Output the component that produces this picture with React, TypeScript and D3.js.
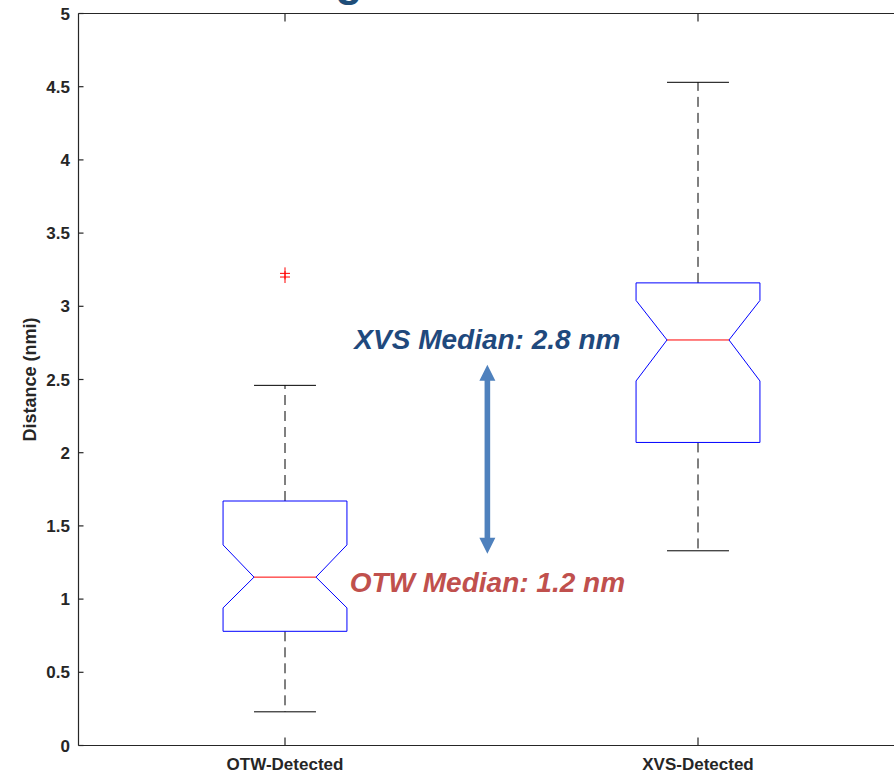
import React from "react";
import * as d3 from "d3";

const categories = ["OTW-Detected", "XVS-Detected"];
const whiskerLow = [0.23, 1.33];
const q1 = [0.78, 2.07];
const medians = [1.15, 2.77];
const q3 = [1.67, 3.16];
const whiskerHigh = [2.46, 4.53];
const notchLow = [0.94, 2.49];
const notchHigh = [1.37, 3.04];
const outliers: number[][] = [[3.2, 3.225], []];
const yTicks = [0, 0.5, 1, 1.5, 2, 2.5, 3, 3.5, 4, 4.5, 5];
const annotations = [
  { text: "XVS Median: 2.8 nm", x: 1.49, y: 2.71, color: "#1f497d" },
  { text: "OTW Median: 1.2 nm", x: 1.49, y: 1.05, color: "#c0504d" },
];
const arrowRange = [1.31, 2.6];
const arrowX = 1.49;

const W = 894;
const H = 775;
const left = 78.5;
const top = 13.5;
const bottom = 745.5;
const font = "'Liberation Sans', Arial, Helvetica, sans-serif";
const axisColor = "#262626";

export default function App() {
  const x = d3.scaleLinear().domain([0.5, 2.5]).range([left, 904.5]);
  const y = d3.scaleLinear().domain([0, 5]).range([bottom, top]);
  const halfW = 0.15;
  const notchW = halfW / 2;
  const capW = halfW / 2;

  const boxPath = (i: number) => {
    const c = i + 1;
    const pts: [number, number][] = [
      [c - halfW, q1[i]],
      [c - halfW, notchLow[i]],
      [c - notchW, medians[i]],
      [c - halfW, notchHigh[i]],
      [c - halfW, q3[i]],
      [c + halfW, q3[i]],
      [c + halfW, notchHigh[i]],
      [c + notchW, medians[i]],
      [c + halfW, notchLow[i]],
      [c + halfW, q1[i]],
    ];
    const line = d3.line<[number, number]>().x((d) => x(d[0])).y((d) => y(d[1]));
    return line(pts) + "Z";
  };

  const ax = x(arrowX);
  const ayTop = y(arrowRange[1]);
  const ayBot = y(arrowRange[0]);
  const headL = 16;
  const headW = 8;
  const shaftW = 2.8;
  const arrowPath = [
    `M${ax},${ayTop}`,
    `L${ax + headW},${ayTop + headL}`,
    `L${ax + shaftW},${ayTop + headL}`,
    `L${ax + shaftW},${ayBot - headL}`,
    `L${ax + headW},${ayBot - headL}`,
    `L${ax},${ayBot}`,
    `L${ax - headW},${ayBot - headL}`,
    `L${ax - shaftW},${ayBot - headL}`,
    `L${ax - shaftW},${ayTop + headL}`,
    `L${ax - headW},${ayTop + headL}`,
    "Z",
  ].join(" ");

  return (
    <svg
      width={W}
      height={H}
      style={{ position: "absolute", left: 0, top: 0, background: "#fff" }}
      fontFamily={font}
    >
      <rect x={0} y={0} width={W} height={H} fill="#fff" />
      {/* cut-off title descender */}
      <text x={349} y={-4} fontSize={44} fontWeight="bold" fill="#1f4e79" textAnchor="middle">
        g
      </text>

      {/* axes */}
      <g stroke={axisColor} strokeWidth={1.2} fill="none">
        <line x1={left} y1={top} x2={W} y2={top} />
        <line x1={left} y1={bottom} x2={W} y2={bottom} />
        <line x1={left} y1={top} x2={left} y2={bottom} />
        {yTicks.map((t) => (
          <line key={t} x1={left} x2={left + 5} y1={y(t)} y2={y(t)} />
        ))}
        {categories.map((c, i) => (
          <g key={c}>
            <line x1={x(i + 1)} x2={x(i + 1)} y1={bottom} y2={bottom - 8} />
            <line x1={x(i + 1)} x2={x(i + 1)} y1={top} y2={top + 8} />
          </g>
        ))}
      </g>
      {yTicks.map((t) => (
        <text
          key={t}
          x={70}
          y={y(t) + 6}
          textAnchor="end"
          fontSize={17}
          fontWeight="bold"
          fill={axisColor}
        >
          {d3.format("")(t)}
        </text>
      ))}
      {categories.map((c, i) => (
        <text
          key={c}
          x={x(i + 1)}
          y={770}
          textAnchor="middle"
          fontSize={17}
          fontWeight="bold"
          fill={axisColor}
        >
          {c}
        </text>
      ))}
      <text
        transform={`translate(36,${(top + bottom) / 2}) rotate(-90)`}
        textAnchor="middle"
        fontSize={18}
        fontWeight="bold"
        fill={axisColor}
      >
        Distance (nmi)
      </text>

      {/* boxes */}
      {categories.map((c, i) => {
        const cx = x(i + 1);
        return (
          <g key={c}>
            <line
              x1={cx}
              x2={cx}
              y1={y(q3[i])}
              y2={y(whiskerHigh[i])}
              stroke="#000"
              strokeWidth={1}
              strokeDasharray="10,6"
            />
            <line
              x1={cx}
              x2={cx}
              y1={y(q1[i])}
              y2={y(whiskerLow[i])}
              stroke="#000"
              strokeWidth={1}
              strokeDasharray="10,6"
            />
            <line
              x1={x(i + 1 - capW)}
              x2={x(i + 1 + capW)}
              y1={y(whiskerHigh[i])}
              y2={y(whiskerHigh[i])}
              stroke="#000"
              strokeWidth={1}
            />
            <line
              x1={x(i + 1 - capW)}
              x2={x(i + 1 + capW)}
              y1={y(whiskerLow[i])}
              y2={y(whiskerLow[i])}
              stroke="#000"
              strokeWidth={1}
            />
            <path d={boxPath(i)} fill="none" stroke="#0000ff" strokeWidth={1} />
            <line
              x1={x(i + 1 - notchW)}
              x2={x(i + 1 + notchW)}
              y1={y(medians[i])}
              y2={y(medians[i])}
              stroke="#ff0000"
              strokeWidth={1}
            />
            {outliers[i].map((o, k) => (
              <g key={k} stroke="#ff0000" strokeWidth={1}>
                <line x1={cx - 5} x2={cx + 5} y1={y(o)} y2={y(o)} />
                <line x1={cx} x2={cx} y1={y(o) - 6} y2={y(o) + 6} />
              </g>
            ))}
          </g>
        );
      })}

      {/* annotations */}
      <path d={arrowPath} fill="#4f81bd" />
      {annotations.map((a) => (
        <text
          key={a.text}
          x={x(a.x)}
          y={y(a.y)}
          textAnchor="middle"
          fontSize={28}
          fontWeight="bold"
          fontStyle="italic"
          fill={a.color}
        >
          {a.text}
        </text>
      ))}
    </svg>
  );
}
